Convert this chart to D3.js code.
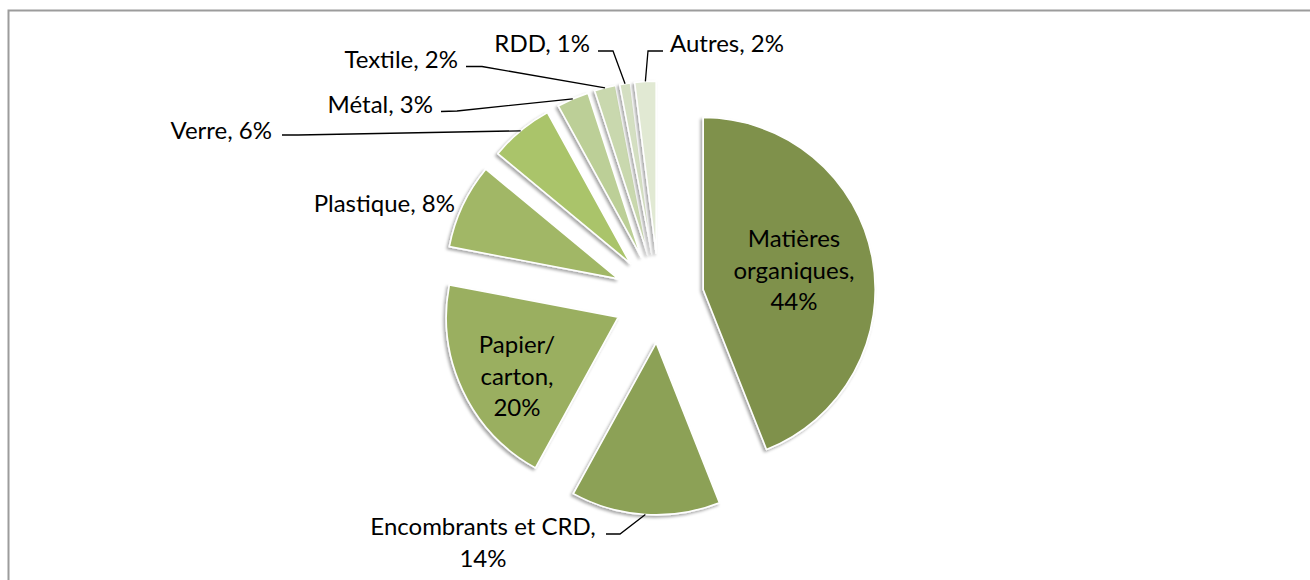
<!DOCTYPE html>
<html>
  <head>
    <meta charset="utf-8" />
    <title>Composition des déchets</title>
    <style>
      body { margin: 0; background: #fff; }
      text { font-family: Lato, "Open Sans", sans-serif; fill: #000; }
    </style>
  </head>
  <body>
    <script src="https://cdn.jsdelivr.net/npm/d3@7/dist/d3.min.js"></script>
    <script>
      // data
      const categories = ["Matières organiques", "Encombrants et CRD", "Papier/ carton",
        "Plastique", "Verre", "Métal", "Textile", "RDD", "Autres"];
      const values = [44, 14, 20, 8, 6, 3, 2, 1, 2];
      const colors = ["#7f914b", "#8ca157", "#9aaf61", "#a1b766", "#aac46b",
        "#bccf97", "#c9d8ae", "#d4dfc2", "#e1e9d3"];

      // label layout: text lines, anchor, position, leader knee (null = no leader)
      const labelLayout = [
        { lines: ["Matières", "organiques,", "44%"], x: 794, y: 247, anchor: "middle" },
        { lines: ["Encombrants et CRD,", "14%"], x: 483, y: 535, anchor: "middle",
          leader: [[606, 534], [620, 534]] },
        { lines: ["Papier/", "carton,", "20%"], x: 517, y: 353, anchor: "middle" },
        { lines: ["Plastique, 8%"], x: 455, y: 212, anchor: "end" },
        { lines: ["Verre, 6%"], x: 272, y: 139, anchor: "end",
          leader: [[282, 135], [298, 135]] },
        { lines: ["Métal, 3%"], x: 433, y: 113, anchor: "end",
          leader: [[441, 111.5], [457, 111]] },
        { lines: ["Textile, 2%"], x: 458, y: 68, anchor: "end",
          leader: [[466, 66.5], [482, 66.5]] },
        { lines: ["RDD, 1%"], x: 590, y: 52, anchor: "end",
          leader: [[598, 51], [613, 51]] },
        { lines: ["Autres, 2%"], x: 670, y: 52, anchor: "start",
          leader: [[663, 51], [648, 51]] }
      ];

      const width = 1310;
      const height = 580;
      const cx = 659, cy = 298;
      const radius = 172;
      const explode = 45;
      const lineHeight = 31.5;

      const svg = d3.select("body").append("svg")
        .attr("width", width)
        .attr("height", height);

      const defs = svg.append("defs");
      const f = defs.append("filter").attr("id", "shadow")
        .attr("x", "-20%").attr("y", "-20%").attr("width", "140%").attr("height", "140%");
      f.append("feDropShadow")
        .attr("dx", -2).attr("dy", 2).attr("stdDeviation", 1.6)
        .attr("flood-color", "#000").attr("flood-opacity", 0.35);

      // frame
      svg.append("path")
        .attr("d", `M8.5,${height} V10.5 H${width}`)
        .attr("fill", "none")
        .attr("stroke", "#9c9c9c")
        .attr("stroke-width", 2);

      const pie = d3.pie().sort(null).value(d => d);
      const arcs = pie(values);
      const arc = d3.arc().innerRadius(0).outerRadius(radius);

      const shift = d => {
        const a = (d.startAngle + d.endAngle) / 2;
        return [Math.sin(a) * explode, -Math.cos(a) * explode];
      };

      const g = svg.append("g").attr("transform", `translate(${cx},${cy})`);

      g.selectAll("path.slice")
        .data(arcs)
        .join("path")
        .attr("class", "slice")
        .attr("transform", d => `translate(${shift(d)})`)
        .attr("d", arc)
        .attr("fill", (d, i) => colors[i])
        .attr("stroke", "#fff")
        .attr("stroke-width", 1.6)
        .attr("stroke-linejoin", "round")
        .attr("filter", "url(#shadow)");

      // leader lines to the middle of each slice's outer edge
      arcs.forEach((d, i) => {
        const lay = labelLayout[i];
        if (!lay.leader) return;
        const a = (d.startAngle + d.endAngle) / 2;
        const [sx, sy] = shift(d);
        const end = [cx + sx + Math.sin(a) * radius, cy + sy - Math.cos(a) * radius];
        svg.append("path")
          .attr("d", d3.line()([...lay.leader, end]))
          .attr("fill", "none")
          .attr("stroke", "#000")
          .attr("stroke-width", 1.3);
      });

      // labels
      labelLayout.forEach((lay, i) => {
        const t = svg.append("text")
          .attr("x", lay.x)
          .attr("y", lay.y)
          .attr("text-anchor", lay.anchor)
          .attr("font-size", 24);
        lay.lines.forEach((s, k) => {
          t.append("tspan")
            .attr("x", lay.x)
            .attr("dy", k === 0 ? 0 : lineHeight)
            .text(s);
        });
      });
    </script>
  </body>
</html>
